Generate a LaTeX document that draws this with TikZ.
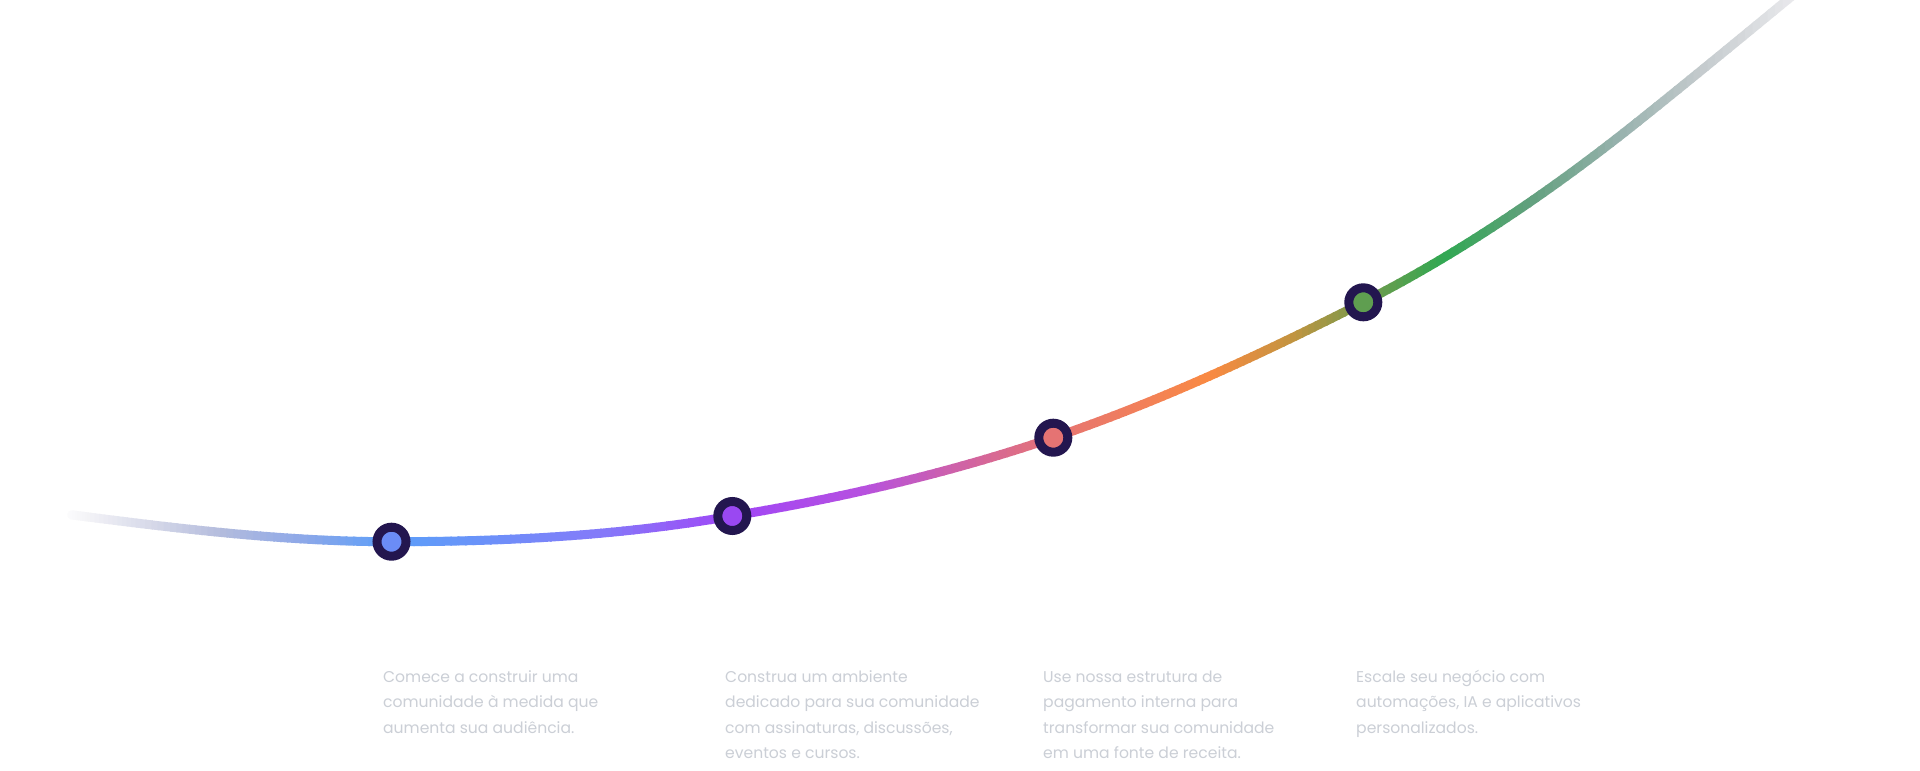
\documentclass[tikz,border=0pt]{standalone}
\usepackage{fontspec}
\setmainfont{Poppins}
\definecolor{dotring}{HTML}{23164F}
\definecolor{dotA}{HTML}{6B8CF6}
\definecolor{dotB}{HTML}{9A48F2}
\definecolor{dotC}{HTML}{E57373}
\definecolor{dotD}{HTML}{5F9E50}
\definecolor{desctext}{HTML}{CBCFD6}
\tikzset{
  curvestroke/.style={line width=9pt, line cap=round},
  dotnode/.style={circle, draw=dotring, line width=9pt, minimum size=29pt, inner sep=0pt},
  desc/.style={anchor=base west, align=left, inner sep=0pt, text=desctext,
    font=\fontsize{15.6}{25.5}\selectfont},
}
\begin{document}
\begin{tikzpicture}[x=1pt, y=-1pt]
\useasboundingbox (0,0) rectangle (1920,771);
\fill[white] (0,0) rectangle (1920,771);
% the curve
\coordinate (c0) at (72,514.9);
\coordinate (c5) at (1640,120);
\coordinate (c6) at (1820,-27);
\path[save path=\curvesaved] (c0)
  .. controls (178.5,528.7) and (285,541.7) .. (391.5,541.7)
  .. controls (505.1,541.7) and (618.7,535.9) .. (732.3,516)
  .. controls (839.3,498.3) and (946.3,474.1) .. (1053.3,437.7)
  .. controls (1156.6,402.6) and (1260,355) .. (1363.3,302.3)
  .. controls (1455.5,255.3) and (1547.8,193.8) .. (c5)
  .. controls (1700,72) and (1760,22.2) .. (c6);
\foreach \xa/\ca/\xb/\cb in {
  60/FFFFFF/90/F2F2F6, 90/F2F2F6/145/D9DBEA, 145/D9DBEA/220/B4BCDD,
  220/B4BCDD/300/8EA8E8, 300/8EA8E8/391/5C9EF9, 391/5C9EF9/480/6A92F9,
  480/6A92F9/600/847AF9, 600/847AF9/732/A046F6, 732/A046F6/860/B650E0,
  860/B650E0/960/CF62A6, 960/CF62A6/1053/E67474, 1053/E67474/1140/F2805A,
  1140/F2805A/1210/F98A42, 1210/F98A42/1290/C49440, 1290/C49440/1363/769A4C,
  1363/769A4C/1443/30A852, 1443/30A852/1530/62A07E, 1530/62A07E/1620/98B2AE,
  1620/98B2AE/1700/C4CACD, 1700/C4CACD/1790/E8E8EB, 1790/E8E8EB/1830/F4F4F6} {
  \definecolor{colA}{HTML}{\ca}
  \definecolor{colB}{HTML}{\cb}
  \foreach \k in {0,...,11} {
    \pgfmathsetmacro\xl{\xa+(\xb-\xa)*\k/12}
    \pgfmathsetmacro\xr{\xa+(\xb-\xa)*(\k+1)/12+1.5}
    \pgfmathtruncatemacro\pc{(\k+0.5)*100/12}
    \begin{scope}
      \clip (\xl,-60) rectangle (\xr,800);
      \draw[curvestroke, color=colB!\pc!colA, use path=\curvesaved];
    \end{scope}
  }
}
% dots
\node[dotnode, fill=dotA] (d1) at (391.5,541.7) {};
\node[dotnode, fill=dotB] (d2) at (732.3,516) {};
\node[dotnode, fill=dotC] (d3) at (1053.3,437.7) {};
\node[dotnode, fill=dotD] (d4) at (1363.3,302.3) {};
% texts (anchor = baseline of the last line)
\node[desc] (t1) at (383,733) {Comece a construir uma\\comunidade à medida que\\aumenta sua audiência.};
\node[desc] (t2) at (725,758.5) {Construa um ambiente\\dedicado para sua comunidade\\com assinaturas, discussões,\\eventos e cursos.};
\node[desc] (t3) at (1043,758.5) {Use nossa estrutura de\\pagamento interna para\\transformar sua comunidade\\em uma fonte de receita.};
\node[desc] (t4) at (1356,733) {Escale seu negócio com\\automações, IA e aplicativos\\personalizados.};
\end{tikzpicture}
\end{document}
